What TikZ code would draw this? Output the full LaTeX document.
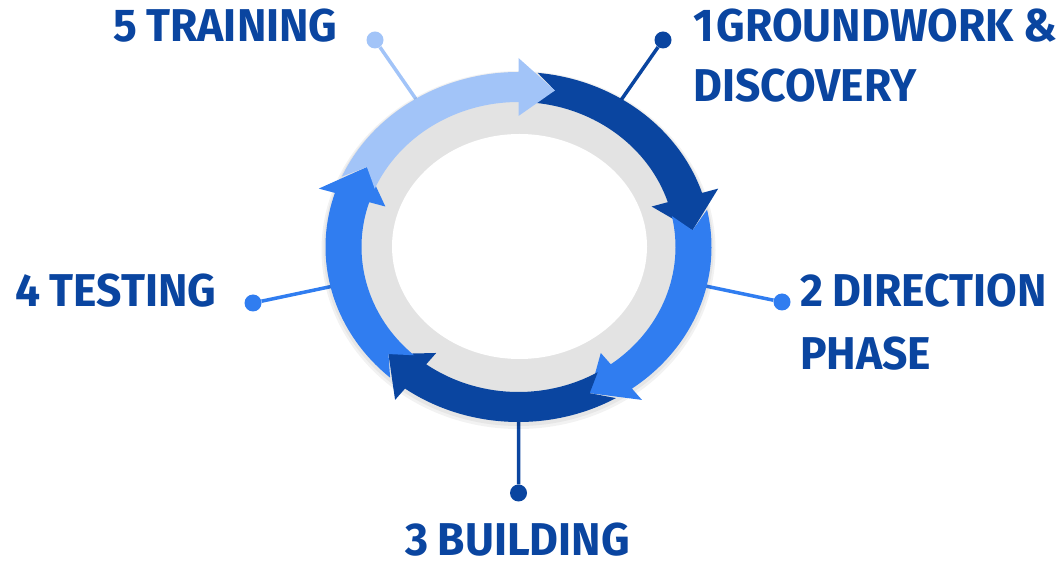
\documentclass[tikz,border=0pt]{standalone}
\usepackage{fontspec}
\setmainfont{Fira Sans}[BoldFont={* Bold},FakeStretch=0.965,WordSpace=0.9]
\usetikzlibrary{calc}
\definecolor{dkb}{RGB}{10,69,160}
\definecolor{mdb}{RGB}{48,125,240}
\definecolor{ltb}{RGB}{162,196,248}
\definecolor{ringgray}{RGB}{227,227,227}
\tikzset{
  lbl/.style={anchor=base west,inner sep=0pt,text=dkb,font=\fontsize{46}{50}\selectfont\bfseries},
  dot/.style={circle,fill=#1,inner sep=0pt,minimum size=17pt},
  leader/.style={draw=#1,line width=3.5pt}
}
\begin{document}
\begin{tikzpicture}[x=1pt,y=1pt]
\useasboundingbox (0,0) rectangle (1057,565);
\coordinate (C) at (518.5,318);
% dots
\node[dot=dkb] (d1) at (663,525) {};
\node[dot=mdb] (d2) at (782,263) {};
\node[dot=dkb] (d3) at (518.5,72) {};
\node[dot=mdb] (d4) at (253,262) {};
\node[dot=ltb] (d5) at (375,525) {};
\foreach \k in {1,...,5} {\coordinate (r\k) at ($(C)!0.7!(d\k)$);}
\draw[leader=dkb] (r1) -- (d1);
\draw[leader=mdb] (r2) -- (d2);
\draw[leader=dkb] (r3) -- (d3);
\draw[leader=mdb] (r4) -- (d4);
\draw[leader=ltb] (r5) -- (d5);
% ring
\begin{scope}[shift={(C)}]
  \fill[black,opacity=0.05] (0,-3) ellipse[x radius=197,y radius=179];
  \fill[black,opacity=0.05] (0,-2) ellipse[x radius=195,y radius=177];
  \fill[ringgray] (0,0) ellipse[x radius=160,y radius=148];
  \fill[white] (1,0.5) ellipse[x radius=127.5,y radius=112.5];
  \foreach \s/\c in {90/dkb,18/mdb,-54/dkb,-126/mdb,-198/ltb} {
    \pgfmathsetmacro\e{\s-72}
    \pgfmathsetmacro\t{\e-12}
    \pgfmathsetmacro\a{\s-5.7}
    \pgfmathsetmacro\n{\s-12}
    \fill[\c] (\a:193 and 175) arc[start angle=\a,end angle=\e,x radius=193,y radius=175]
      -- (\e:210 and 189) -- (\t:175 and 160) -- (\e:140 and 131)
      -- (\e:157 and 145) arc[start angle=\e,end angle=\a,x radius=157,y radius=145]
      -- (\n:175 and 160) -- cycle;
  }
\end{scope}
% labels
\node[lbl] (t1a) at (693,523) {1\hspace{3pt}GROUNDWORK \&};
\node[lbl] (t1b) at (693,463) {DISCOVERY};
\node[lbl] (t2a) at (800,258) {2 DIRECTION};
\node[lbl] (t2b) at (800,195) {PHASE};
\node[lbl] (t3) at (405,10) {3 BUILDING};
\node[lbl] (t4) at (15,258) {4 TESTING};
\node[lbl] (t5) at (113,523) {5 TRAINING};
\end{tikzpicture}
\end{document}
